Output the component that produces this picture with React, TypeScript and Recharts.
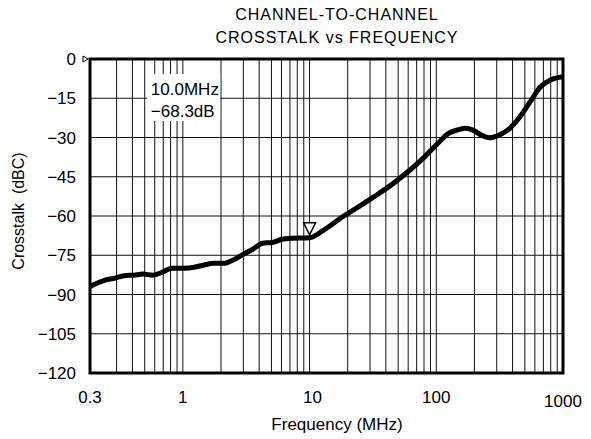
import { CartesianGrid, Line, LineChart, ReferenceArea, ReferenceDot, XAxis, YAxis } from 'recharts';

const freqMHz = [
  0.185, 0.243, 0.288, 0.344, 0.408, 0.486, 0.578, 0.687, 0.817, 1.03, 1.23, 1.47, 1.75, 2.09, 2.5, 2.98, 3.56,
  4.25, 5.07, 6.06, 7.23, 10, 12.9, 17.5, 23.8, 32.3, 43.9, 59.7, 81.3, 104, 125, 150, 170, 195, 225, 263, 316,
  381, 459, 552, 665, 800, 1000,
];
const crosstalkDb = [
  -87, -84.5, -83.8, -82.8, -82.6, -82.2, -82.6, -81.5, -80, -80, -79.6, -78.7, -78.1, -78.1, -76.8, -74.7, -72.7,
  -70.4, -70.1, -68.9, -68.5, -68.3, -65.4, -60.9, -56.8, -52.6, -48.2, -43.1, -37.3, -32, -28.4, -27, -26.5, -27.2,
  -29, -30.1, -29, -26.5, -22, -16.3, -10.6, -8, -6.8,
];

const xGridTicks = [
  0.185, 0.3, 0.4, 0.5, 0.6, 0.7, 0.8, 0.9, 1, 2, 3, 4, 5, 6, 7, 8, 9, 10, 20, 30, 40, 50, 60, 70, 80, 90, 100, 200,
  300, 400, 500, 600, 700, 800, 900, 1000,
];
const xLabelTicks = [0.185, 1, 10, 100, 1000];
const xLabelTexts = ['0.3', '1', '10', '100', '1000'];
const yTicks = [-120, -105, -90, -75, -60, -45, -30, -15, 0];

const markerFreq = 10;
const markerDb = -68.3;
const markerLines = ['10.0MHz', '\u221268.3dB'];

const data = freqMHz.map((f, i) => ({ f, db: crosstalkDb[i] }));

const FONT = '"Liberation Sans", Arial, Helvetica, sans-serif';

const XTick = ({ x, y, payload }: any) => {
  const idx = xLabelTicks.indexOf(payload.value);
  if (idx < 0) return null;
  const last = idx === xLabelTicks.length - 1;
  return (
    <text x={x + (idx === 2 ? 3 : 0)} y={y + (last ? 14 : 10)} textAnchor="middle" fontSize={17} fill="#000" fontFamily={FONT} dy="0.71em">
      {xLabelTexts[idx]}
    </text>
  );
};

const fmtY = (v: number) => (v < 0 ? '\u2212' + Math.abs(v) : String(v));

const BoxLabel = ({ viewBox }: any) => (
  <text fontSize={17} fontFamily={FONT} fill="#000">
    <tspan x={viewBox.x + 4} y={viewBox.y + 21}>{markerLines[0]}</tspan>
    <tspan x={viewBox.x + 4} y={viewBox.y + 43}>{markerLines[1]}</tspan>
  </text>
);

const App = () => (
  <div style={{ position: 'absolute', left: 0, top: 0, width: 591, height: 439, background: '#fff', fontFamily: FONT }}>
    <div style={{ position: 'absolute', left: 0, width: 674, top: 3, textAlign: 'center', fontSize: 16, lineHeight: '23px', letterSpacing: 1 }}>
      CHANNEL-TO-CHANNEL
      <br />
      CROSSTALK vs FREQUENCY
    </div>
    <LineChart width={591} height={439} data={data} margin={{ top: 59, right: 28, bottom: 36, left: 30 }}>
      <CartesianGrid stroke="#111" strokeWidth={1} />
      <XAxis
        dataKey="f"
        type="number"
        scale="log"
        domain={[0.185, 1000]}
        ticks={xGridTicks}
        interval={0}
        tick={<XTick />}
        tickLine={false}
        axisLine={false}
        height={30}
        allowDataOverflow
        label={{
          content: () => (
            <text x={337} y={430} textAnchor="middle" fontSize={17} fontFamily={FONT} fill="#000">
              Frequency (MHz)
            </text>
          ),
        }}
      />
      <YAxis
        type="number"
        domain={[-120, 0]}
        ticks={yTicks}
        interval={0}
        tickFormatter={fmtY}
        tickLine={false}
        axisLine={false}
        tickSize={0}
        tickMargin={14}
        width={60}
        tick={{ fill: '#000', fontSize: 17, fontFamily: FONT }}
        label={{
          content: () => (
            <text x={24} y={211} transform="rotate(-90 24 211)" textAnchor="middle" fontSize={16} fontFamily={FONT} fill="#000" style={{ whiteSpace: 'pre' }}>
              {'Crosstalk\u00a0 (dBC)'}
            </text>
          ),
        }}
      />
      <ReferenceArea x1={0.52} x2={1.97} y1={-23.7} y2={-5.7} fill="#fff" fillOpacity={1} stroke="none" label={<BoxLabel />} />
      <ReferenceArea x1={0.185} x2={1000} y1={-120} y2={0} fill="none" stroke="#000" strokeWidth={3} />
      <Line type="monotone" dataKey="db" stroke="#000" strokeWidth={5} dot={false} isAnimationActive={false} />
      <ReferenceDot
        x={markerFreq}
        y={markerDb}
        ifOverflow="visible"
        shape={({ cx, cy }: any) => (
          <path d={`M${cx - 6},${cy - 15} L${cx + 6},${cy - 15} L${cx},${cy - 3} Z`} fill="#fff" stroke="#000" strokeWidth={1.5} />
        )}
      />
      <ReferenceDot
        x={0.185}
        y={0}
        ifOverflow="visible"
        shape={({ cx, cy }: any) => (
          <path d={`M${cx - 7},${cy - 3} L${cx - 7},${cy + 3} L${cx - 2},${cy} Z`} fill="#fff" stroke="#000" strokeWidth={1} />
        )}
      />
    </LineChart>
  </div>
);

export default App;
